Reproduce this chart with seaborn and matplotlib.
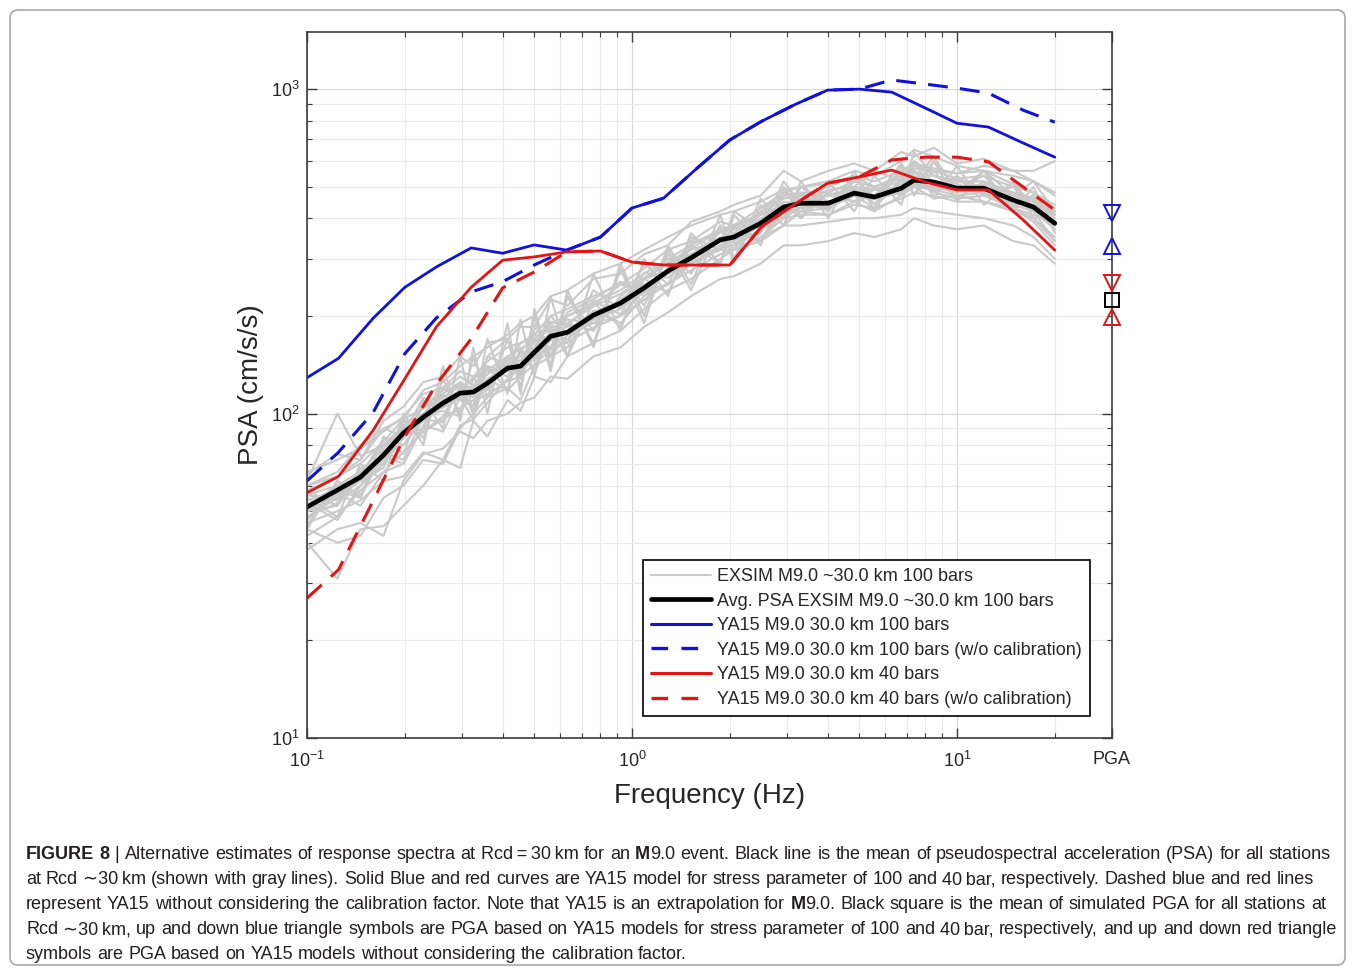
import numpy as np
import pandas as pd
import matplotlib
matplotlib.use("Agg")
import matplotlib.pyplot as plt
import seaborn as sns
from matplotlib.lines import Line2D
from matplotlib.patches import FancyBboxPatch
from matplotlib.transforms import IdentityTransform
from matplotlib.ticker import FixedLocator, FixedFormatter, NullFormatter

# ---------------- data ----------------
F_MODEL = [0.1, 0.125, 0.16, 0.2, 0.25, 0.32, 0.4, 0.5, 0.63, 0.8, 1.0, 1.25,
           1.6, 2.0, 2.5, 3.2, 4.0, 5.0, 6.3, 8.0, 10.0, 12.5, 16.0, 20.0]
YA15_100 = [129, 148, 197, 245, 283, 324, 312, 331, 319, 350, 430, 461,
            575, 697, 795, 900, 993, 1000, 979, 874, 785, 764, 682, 617]
YA15_100_NOCAL = [62, 76, 101, 153, 197, 237, 255, 287, 319, 350, 430, 461,
                  575, 697, 795, 900, 993, 1000, 1067, 1036, 1007, 972, 861, 791]
YA15_40 = [57, 64, 89, 128, 185, 245, 297, 304, 315, 317, 293, 287,
           287, 287, 376, 445, 513, 536, 563, 517, 489, 489, 395, 319]
YA15_40_NOCAL = [27, 33, 54, 85, 123, 170, 244, 273, 315, 317, 293, 287,
                 287, 287, 376, 445, 513, 536, 605, 617, 617, 597, 499, 424]

F_SIM = [0.100, 0.124, 0.146, 0.172, 0.198, 0.228, 0.262, 0.296, 0.325, 0.359,
         0.414, 0.454, 0.501, 0.562, 0.633, 0.761, 0.922, 1.09, 1.29, 1.52,
         1.87, 2.06, 2.49, 2.93, 3.31, 4.02, 4.83, 5.57, 6.74, 7.38, 8.49,
         10.0, 12.1, 14.9, 17.2, 20.0]
AVG_PSA = [51.5, 58.1, 63.7, 74.5, 87.1, 97.5, 107.7, 115.6, 116.5, 124,
           138, 140, 154.5, 173, 178, 201, 219, 244, 275, 302,
           343, 350, 386, 433, 445, 445, 478, 465, 495, 524, 517,
           495, 495, 455, 433, 386]

GA = [65, 75, 72, 95, 105, 125, 130, 150, 140, 165, 170, 185, 185, 225, 215, 260, 270, 310, 330, 390, 420, 440, 470, 560, 520, 560, 590, 560, 640, 620, 660, 590, 610, 560, 520, 470]
GB = [38, 44, 46, 42, 62, 75, 78, 88, 84, 95, 100, 108, 112, 130, 128, 150, 160, 185, 205, 230, 260, 265, 290, 330, 330, 340, 360, 350, 370, 400, 380, 370, 380, 340, 330, 290]
GC = [55, 48, 70, 62, 100, 80, 140, 95, 160, 100, 190, 115, 210, 140, 240, 160, 290, 200, 330, 250, 410, 300, 460, 380, 520, 400, 560, 420, 580, 470, 600, 450, 560, 420, 500, 360]
GD = [45, 62, 55, 85, 75, 110, 90, 150, 100, 170, 115, 195, 130, 230, 150, 270, 180, 300, 230, 360, 290, 410, 330, 500, 400, 520, 420, 540, 440, 600, 460, 580, 440, 520, 400, 420]
GE = [40, 31, 44, 45, 52, 60, 72, 68, 95, 85, 110, 102, 130, 125, 150, 165, 180, 210, 240, 260, 300, 320, 350, 380, 420, 410, 450, 420, 470, 500, 460, 470, 450, 430, 400, 340]
GF = [60, 66, 80, 90, 96, 118, 125, 140, 150, 160, 175, 190, 200, 230, 240, 270, 290, 320, 350, 380, 410, 420, 450, 490, 500, 510, 540, 520, 560, 590, 570, 550, 560, 510, 480, 430]
GG = [62, 100, 74, 80, 86, 112, 104, 115, 130, 135, 140, 165, 170, 160, 205, 225, 255, 230, 275, 335, 365, 335, 360, 470, 470, 425, 520, 500, 480, 640, 540, 510, 480, 500, 450, 420]
GH = [50, 52, 66, 74, 70, 92, 114, 110, 106, 150, 142, 132, 182, 192, 186, 222, 202, 272, 262, 302, 362, 382, 412, 402, 432, 472, 492, 442, 522, 502, 600, 492, 542, 432, 472, 380]
GI = [54, 58, 55, 76, 88, 100, 108, 125, 118, 125, 145, 150, 148, 160, 190, 180, 230, 260, 290, 310, 320, 350, 380, 450, 440, 430, 500, 470, 500, 530, 480, 460, 470, 430, 390, 330]
GJ = [44, 40, 42, 55, 60, 72, 70, 90, 100, 112, 120, 110, 140, 150, 175, 190, 200, 240, 250, 290, 330, 330, 370, 420, 420, 430, 470, 460, 480, 510, 500, 480, 500, 460, 420, 380]
GK = [58, 64, 72, 90, 85, 105, 118, 130, 122, 140, 135, 155, 175, 170, 200, 215, 250, 235, 280, 320, 340, 370, 390, 420, 500, 450, 470, 430, 530, 560, 520, 480, 510, 470, 440, 410]
GL = [48, 55, 62, 68, 95, 88, 98, 120, 115, 120, 150, 145, 160, 200, 175, 195, 210, 260, 300, 290, 330, 350, 410, 440, 400, 480, 450, 470, 560, 500, 490, 540, 470, 460, 420, 340]
GM = [52, 57, 63, 74, 80, 96, 110, 118, 112, 128, 140, 135, 150, 180, 185, 195, 225, 250, 270, 310, 350, 360, 420, 480, 500, 520, 560, 540, 600, 650, 620, 580, 560, 540, 520, 480]
GN = [56, 60, 66, 78, 90, 100, 106, 116, 120, 126, 136, 146, 158, 176, 180, 206, 220, 240, 270, 290, 320, 320, 340, 380, 380, 390, 400, 400, 410, 430, 420, 410, 400, 380, 350, 300]
GO = [66, 72, 78, 88, 98, 115, 120, 135, 130, 145, 160, 165, 175, 200, 210, 230, 250, 280, 320, 340, 390, 380, 430, 480, 470, 500, 540, 500, 540, 580, 560, 530, 540, 500, 480, 440]
GP = [48, 53, 60, 70, 84, 95, 105, 112, 118, 122, 142, 142, 158, 170, 180, 200, 220, 245, 270, 300, 345, 355, 395, 435, 440, 445, 480, 460, 490, 520, 520, 500, 490, 455, 430, 380]
GQ = [56, 54, 64, 84, 80, 96, 94, 122, 100, 128, 118, 130, 170, 150, 160, 208, 190, 230, 250, 290, 320, 360, 340, 420, 420, 480, 450, 490, 480, 510, 490, 470, 480, 430, 410, 390]
GR = [44, 62, 56, 78, 92, 88, 120, 110, 115, 138, 130, 155, 145, 178, 195, 190, 220, 260, 275, 295, 345, 345, 400, 430, 460, 430, 490, 470, 510, 540, 510, 500, 490, 470, 450, 420]
GS = [50, 56, 62, 72, 90, 100, 115, 125, 100, 150, 170, 120, 200, 135, 230, 165, 280, 190, 320, 240, 380, 290, 440, 380, 480, 420, 540, 440, 560, 470, 560, 460, 520, 440, 460, 400]
GT = [46, 50, 54, 62, 64, 76, 72, 92, 96, 108, 128, 138, 150, 168, 170, 200, 215, 238, 270, 300, 340, 340, 380, 420, 430, 440, 470, 460, 480, 510, 500, 490, 480, 440, 420, 370]
GU = [60, 64, 70, 82, 96, 104, 118, 120, 128, 136, 150, 158, 170, 190, 200, 220, 240, 270, 300, 330, 370, 380, 410, 460, 470, 470, 500, 490, 520, 550, 540, 520, 520, 480, 460, 410]
GV = [42, 48, 58, 66, 76, 88, 96, 104, 110, 114, 126, 130, 142, 158, 166, 184, 200, 224, 252, 276, 310, 320, 350, 400, 410, 410, 440, 430, 460, 480, 470, 450, 450, 420, 400, 350]
GW = [52, 60, 66, 80, 92, 104, 112, 122, 120, 132, 146, 150, 166, 184, 190, 214, 234, 262, 292, 322, 366, 374, 410, 470, 480, 480, 520, 500, 530, 570, 560, 550, 580, 560, 560, 600]
GX = [58, 52, 68, 70, 96, 84, 128, 100, 150, 112, 170, 130, 200, 150, 230, 180, 275, 215, 310, 270, 380, 320, 420, 400, 500, 430, 540, 460, 590, 520, 620, 480, 560, 470, 520, 420]
GY = [47, 57, 52, 66, 70, 92, 88, 112, 96, 140, 118, 160, 132, 185, 150, 220, 185, 260, 235, 330, 290, 380, 340, 440, 430, 470, 450, 500, 470, 560, 480, 530, 470, 500, 420, 380]
GZ = [53, 47, 60, 76, 72, 98, 102, 98, 128, 118, 150, 128, 160, 190, 165, 240, 210, 290, 250, 350, 320, 420, 370, 520, 440, 490, 500, 560, 520, 600, 540, 520, 500, 480, 450, 410]
GRAY_LINES = [GA, GB, GC, GD, GE, GF, GG, GH, GI, GJ, GK, GL, GM,
              GN, GO, GP, GQ, GR, GS, GT, GU, GV, GW, GX, GY, GZ]

PGA_X = 30.0
PGA_BLUE_DOWN = 415
PGA_BLUE_UP = 328
PGA_RED_DOWN = 252
PGA_MEAN_SIM = 224
PGA_RED_UP = 198

X_MAJOR = [0.1, 1, 10, 30]
X_MAJOR_LABELS = ["$10^{-1}$", "$10^{0}$", "$10^{1}$", "PGA"]
Y_MAJOR = [10, 100, 1000]
Y_MAJOR_LABELS = ["$10^{1}$", "$10^{2}$", "$10^{3}$"]

LEGEND_LABELS = ["EXSIM M9.0 ~30.0 km 100 bars",
                 "Avg. PSA EXSIM M9.0 ~30.0 km 100 bars",
                 "YA15 M9.0 30.0 km 100 bars",
                 "YA15 M9.0 30.0 km 100 bars (w/o calibration)",
                 "YA15 M9.0 30.0 km 40 bars",
                 "YA15 M9.0 30.0 km 40 bars (w/o calibration)"]

CAPTION = [
    [("FIGURE 8", True), (" | Alternative estimates of response spectra at Rcd\u2009=\u200930\u2009km for an ", False),
     ("M", True), ("9.0 event. Black line is the mean of pseudospectral acceleration (PSA) for all stations", False)],
    [("at Rcd \u223c30\u2009km (shown with gray lines). Solid Blue and red curves are YA15 model for stress parameter of 100 and 40\u2009bar, respectively. Dashed blue and red lines", False)],
    [("represent YA15 without considering the calibration factor. Note that YA15 is an extrapolation for ", False),
     ("M", True), ("9.0. Black square is the mean of simulated PGA for all stations at", False)],
    [("Rcd \u223c30\u2009km, up and down blue triangle symbols are PGA based on YA15 models for stress parameter of 100 and 40\u2009bar, respectively, and up and down red triangle", False)],
    [("symbols are PGA based on YA15 models without considering the calibration factor.", False)],
]

# ---------------- style ----------------
sns.set_theme(style="white")
plt.rcParams["font.family"] = ["Liberation Sans", "DejaVu Sans"]
plt.rcParams["mathtext.fontset"] = "custom"
plt.rcParams["mathtext.rm"] = "Liberation Sans"
plt.rcParams["mathtext.it"] = "Liberation Sans:italic"
plt.rcParams["mathtext.bf"] = "Liberation Sans:bold"

W, H = 1355, 971
fig = plt.figure(figsize=(W / 100, H / 100), dpi=100)
fig.patch.set_facecolor("white")
ax = fig.add_axes([307 / W, (H - 738) / H, (1112 - 307) / W, (738 - 32) / H])

GRAY = "#c9c9c9"
BLUE = "#1010e0"
RED = "#e41414"

gray_df = pd.DataFrame(
    [(i, f, v) for i, line in enumerate(GRAY_LINES) for f, v in zip(F_SIM, line)],
    columns=["station", "freq", "psa"])

sns.lineplot(data=gray_df, x="freq", y="psa", units="station", estimator=None,
             color=GRAY, lw=1.5, ax=ax, legend=False, sort=False)
sns.lineplot(x=F_SIM, y=AVG_PSA, color="black", lw=3.4, ax=ax, sort=False)
sns.lineplot(x=F_MODEL, y=YA15_100, color=BLUE, lw=2.0, ax=ax, sort=False)
sns.lineplot(x=F_MODEL, y=YA15_100_NOCAL, color=BLUE, lw=2.2, ax=ax, sort=False)
ax.lines[-1].set_dashes([6.5, 4])
sns.lineplot(x=F_MODEL, y=YA15_40, color=RED, lw=2.0, ax=ax, sort=False)
sns.lineplot(x=F_MODEL, y=YA15_40_NOCAL, color=RED, lw=2.2, ax=ax, sort=False)
ax.lines[-1].set_dashes([6.5, 4])

for val, mk, col, ms in [(PGA_BLUE_DOWN, "v", BLUE, 11), (PGA_BLUE_UP, "^", BLUE, 11),
                         (PGA_RED_DOWN, "v", RED, 11), (PGA_MEAN_SIM, "s", "black", 9.5),
                         (PGA_RED_UP, "^", RED, 11)]:
    sns.lineplot(x=[PGA_X], y=[val], marker=mk, markersize=ms, markerfacecolor="none",
                 markeredgecolor=col, markeredgewidth=1.4, linestyle="", ax=ax,
                 clip_on=False, zorder=5)

ax.set_xscale("log")
ax.set_yscale("log")
ax.set_xlim(0.1, 30)
ax.set_ylim(10, 1500)

ax.xaxis.set_major_locator(FixedLocator(X_MAJOR))
ax.xaxis.set_major_formatter(FixedFormatter(X_MAJOR_LABELS))
ax.xaxis.set_minor_locator(FixedLocator([0.2, 0.3, 0.4, 0.5, 0.6, 0.7, 0.8, 0.9,
                                         2, 3, 4, 5, 6, 7, 8, 9, 20]))
ax.xaxis.set_minor_formatter(NullFormatter())
ax.yaxis.set_major_locator(FixedLocator(Y_MAJOR))
ax.yaxis.set_major_formatter(FixedFormatter(Y_MAJOR_LABELS))
ax.yaxis.set_minor_locator(FixedLocator([20, 30, 40, 50, 60, 70, 80, 90,
                                         200, 300, 400, 500, 600, 700, 800, 900]))
ax.yaxis.set_minor_formatter(NullFormatter())

ax.grid(True, which="major", color="#d6d6d6", lw=0.8)
ax.grid(True, which="minor", color="#e9e9e9", lw=0.8)
ax.set_axisbelow(True)
for s in ax.spines.values():
    s.set_color("#3c3c3c")
    s.set_linewidth(1.2)
ax.tick_params(which="both", direction="in", top=True, right=True, bottom=True, left=True,
               color="#3c3c3c", labelcolor="#262626")
ax.tick_params(which="major", length=7, width=1.0, labelsize=13)
ax.tick_params(axis="x", which="major", pad=9)
ax.tick_params(axis="y", which="major", pad=5)
ax.tick_params(which="minor", length=3.5, width=0.8)

ax.set_xlabel("Frequency (Hz)", fontsize=20, color="#262626")
ax.set_ylabel("PSA (cm/s/s)", fontsize=20, color="#262626")
ax.xaxis.set_label_coords(0.5, -0.064)
ax.yaxis.set_label_coords(-0.053, 0.5)

handles = [Line2D([], [], color=GRAY, lw=1.5),
           Line2D([], [], color="black", lw=3.4),
           Line2D([], [], color=BLUE, lw=2.2),
           Line2D([], [], color=BLUE, lw=2.4, dashes=[5, 4]),
           Line2D([], [], color=RED, lw=2.2),
           Line2D([], [], color=RED, lw=2.4, dashes=[5, 4])]
leg = ax.legend(handles, LEGEND_LABELS, loc="lower right",
                bbox_to_anchor=((1090 - 307) / 805, (738 - 716) / 706),
                borderaxespad=0, fontsize=13, frameon=True, fancybox=False,
                framealpha=1, edgecolor="black", handlelength=3.3,
                handletextpad=0.35, labelspacing=0.42, borderpad=0.45)
leg.get_frame().set_linewidth(1.2)
for t in leg.get_texts():
    t.set_color("#262626")

# ---------------- caption ----------------
renderer = fig.canvas.get_renderer()
CAP_X0 = 26
CAP_BASE = [859, 884, 909, 934, 959]
CAP_END = [1331, 1314, 1326, 1337, 687]


def text_width(s, bold, fs):
    t = fig.text(0, 0, s, fontsize=fs, fontweight="bold" if bold else "normal")
    w = t.get_window_extent(renderer).width
    t.remove()
    return w


def split_words(runs):
    words, cur = [], []
    for s, b in runs:
        parts = s.split(" ")
        for i, p in enumerate(parts):
            if i > 0 and cur:
                words.append(cur)
                cur = []
            if p:
                cur.append((p, b))
    if cur:
        words.append(cur)
    return words


last_words = split_words(CAPTION[-1])
fs0 = 12.0
sp0 = text_width("x x", False, fs0) - text_width("xx", False, fs0)
w0 = sum(text_width(p, b, fs0) for w in last_words for p, b in w) + sp0 * (len(last_words) - 1)
CAP_FS = fs0 * (CAP_END[-1] - CAP_X0) / w0

for runs, yb, xend in zip(CAPTION, CAP_BASE, CAP_END):
    words = split_words(runs)
    widths = [[text_width(p, b, CAP_FS) for p, b in w] for w in words]
    total = sum(sum(w) for w in widths)
    gap = (xend - CAP_X0 - total) / (len(words) - 1)
    x = CAP_X0
    for w, ws in zip(words, widths):
        for (p, b), pw in zip(w, ws):
            fig.text(x / W, (H - yb) / H, p, fontsize=CAP_FS, ha="left", va="baseline",
                     fontweight="bold" if b else "normal", color="#231f20")
            x += pw
        x += gap

border = FancyBboxPatch((10, 6), 1335, 955, boxstyle="round,pad=0,rounding_size=8",
                        transform=IdentityTransform(), facecolor="none",
                        edgecolor="#a8a8a8", lw=1.2)
fig.add_artist(border)

fig.savefig("out.png", dpi=100)
